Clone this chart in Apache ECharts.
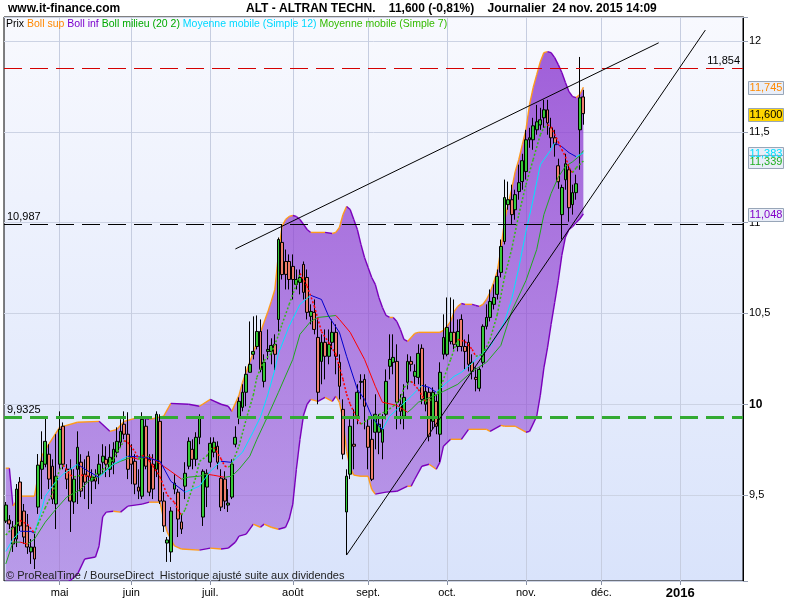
<!DOCTYPE html>
<html><head><meta charset="utf-8">
<script src="https://cdn.jsdelivr.net/npm/echarts@6.0.0/dist/echarts.min.js"></script>
<style>html,body{margin:0;padding:0;background:#fff}#c{width:800px;height:600px}</style>
</head><body><div id="c"></div>
<script>
// ---------- axis / calendar ----------
const START_DATE = [2015, 3, 10];          // 10 avr. 2015 (first candle)
const N_CATEGORIES = 206;                   // trading days shown on the axis
const HOLIDAYS = ['2015-05-01', '2015-12-25', '2016-01-01'];
const MONTHS_FR = ['janv.','févr.','mars','avr.','mai','juin','juil.','août','sept.','oct.','nov.','déc.'];
const Y_TICKS_BOLD = [10];

const categories = [];
{
  const d = new Date(Date.UTC(START_DATE[0], START_DATE[1], START_DATE[2]));
  while (categories.length < N_CATEGORIES) {
    const wd = d.getUTCDay(), s = d.toISOString().slice(0, 10);
    if (wd !== 0 && wd !== 6 && HOLIDAYS.indexOf(s) < 0) categories.push(s);
    d.setUTCDate(d.getUTCDate() + 1);
  }
}
const monthStart = categories.map((c, i) => i > 0 && c.slice(5, 7) !== categories[i - 1].slice(5, 7));

// ---------- prices (OHLC) ----------
const open = [
9.357,9.363,9.324,9.258,9.572,9.412,9.330,9.187,9.214,9.434,
9.642,9.670,9.725,9.659,9.451,9.670,9.879,9.642,9.642,9.462,
9.642,9.681,9.615,9.714,9.577,9.599,9.615,9.681,9.697,9.642,
9.681,9.736,9.791,9.890,9.835,9.708,9.686,9.544,9.494,9.879,
9.697,9.670,9.642,9.906,9.467,9.236,9.187,9.533,9.516,9.352,
9.549,9.659,9.752,9.697,9.818,9.379,9.544,9.681,9.736,9.769,
9.593,9.588,9.445,9.489,9.780,9.928,9.983,10.066,10.176,10.275,
10.318,10.401,10.126,10.291,10.291,10.330,10.467,10.891,10.786,10.786,
10.759,10.660,10.671,10.770,10.698,10.484,10.506,10.368,10.236,10.341,
10.264,10.341,10.396,10.231,9.972,9.407,9.615,9.780,9.934,10.121,
10.137,9.879,9.807,9.846,9.846,9.791,9.945,10.209,10.231,10.236,
10.000,9.934,10.121,10.236,10.154,10.148,10.308,10.000,10.066,9.906,
10.016,9.835,10.275,10.275,10.346,10.396,10.318,10.467,10.318,10.341,
10.231,10.148,10.088,10.231,10.429,10.478,10.550,10.605,10.726,10.896,
11.099,11.126,11.071,11.171,11.226,11.281,11.456,11.456,11.511,11.538,
11.577,11.621,11.522,11.467,11.313,11.044,11.236,11.291,11.099,11.165,
11.511,11.692];
const close = [
9.445,9.341,9.231,9.533,9.330,9.269,9.214,9.214,9.148,9.665,
9.686,9.796,9.588,9.478,9.604,9.862,9.670,9.588,9.467,9.588,
9.763,9.522,9.571,9.604,9.599,9.577,9.670,9.714,9.670,9.708,
9.752,9.796,9.851,9.835,9.642,9.670,9.560,9.522,9.917,9.659,
9.516,9.533,9.945,9.467,9.330,9.253,9.412,9.566,9.368,9.313,
9.620,9.796,9.697,9.818,9.928,9.631,9.620,9.785,9.791,9.681,
9.434,9.467,9.456,9.670,9.818,10.016,10.066,10.165,10.220,10.291,
10.401,10.192,10.231,10.302,10.324,10.275,10.907,10.714,10.715,10.687,
10.687,10.687,10.698,10.616,10.506,10.511,10.412,10.066,10.341,10.264,
10.330,10.396,10.264,10.099,9.725,9.604,9.879,9.769,10.066,10.126,
9.989,9.763,9.587,9.945,9.890,9.862,10.126,10.247,10.258,10.011,
9.961,10.038,10.236,10.220,10.181,10.280,10.027,10.071,9.824,10.066,
9.879,10.176,10.368,10.423,10.396,10.330,10.401,10.318,10.291,10.220,
10.181,10.137,10.192,10.429,10.478,10.566,10.588,10.704,10.869,11.138,
11.126,11.044,11.154,11.220,11.341,11.456,11.467,11.533,11.555,11.566,
11.621,11.549,11.467,11.429,11.225,11.193,11.324,11.082,11.165,11.214,
11.687,11.600];
const low = [
9.346,9.313,9.187,9.214,9.302,9.231,9.176,9.121,9.093,9.396,
9.478,9.653,9.533,9.451,9.313,9.642,9.642,9.533,9.297,9.396,
9.451,9.489,9.478,9.423,9.451,9.533,9.560,9.615,9.599,9.599,
9.615,9.708,9.763,9.807,9.588,9.560,9.505,9.478,9.478,9.642,
9.494,9.478,9.599,9.451,9.297,9.132,9.132,9.505,9.269,9.286,
9.478,9.642,9.642,9.659,9.780,9.330,9.434,9.653,9.708,9.642,
9.412,9.423,9.407,9.478,9.763,9.890,9.961,9.989,10.176,10.247,
10.302,10.176,10.093,10.247,10.220,10.187,10.401,10.687,10.632,10.632,
10.577,10.632,10.605,10.577,10.467,10.440,10.385,10.000,10.110,10.137,
10.220,10.302,10.165,10.027,9.697,9.170,9.588,9.642,9.890,10.027,
9.862,9.642,9.577,9.752,9.725,9.697,9.917,10.137,10.165,9.862,
9.890,9.862,10.082,10.181,10.110,10.110,10.000,9.961,9.796,9.862,
9.835,9.681,10.247,10.264,10.330,10.302,10.291,10.291,10.192,10.181,
10.137,10.071,10.071,10.203,10.412,10.456,10.522,10.577,10.698,10.880,
11.071,10.990,11.016,11.126,11.181,11.237,11.412,11.401,11.484,11.511,
11.522,11.484,11.412,11.363,11.186,10.907,11.181,11.005,11.044,11.126,
11.291,11.539];
const high = [
9.462,9.390,9.357,9.561,9.599,9.451,9.396,9.258,9.286,9.726,
9.851,9.928,9.780,9.697,9.835,9.961,9.900,9.670,9.697,9.642,
9.851,9.725,9.697,9.741,9.642,9.642,9.725,9.780,9.769,9.780,
9.791,9.873,9.917,9.961,9.956,9.780,9.725,9.642,9.956,9.917,
9.725,9.725,9.961,9.945,9.516,9.269,9.434,9.615,9.533,9.396,
9.681,9.818,9.807,9.846,9.945,9.642,9.642,9.818,9.818,9.796,
9.642,9.631,9.533,9.697,9.879,10.038,10.110,10.209,10.456,10.484,
10.489,10.467,10.275,10.412,10.363,10.385,10.918,10.990,10.852,10.825,
10.825,10.742,10.742,10.786,10.742,10.550,10.577,10.467,10.385,10.412,
10.412,10.467,10.440,10.275,10.027,9.642,9.917,9.972,10.110,10.165,
10.165,9.917,9.917,10.055,9.945,9.945,10.192,10.385,10.385,10.330,
10.055,10.110,10.275,10.264,10.220,10.330,10.330,10.110,10.093,10.093,
10.055,10.231,10.495,10.588,10.588,10.577,10.467,10.495,10.357,10.385,
10.275,10.203,10.203,10.440,10.550,10.632,10.660,10.742,10.907,11.237,
11.226,11.209,11.181,11.319,11.379,11.511,11.522,11.577,11.648,11.632,
11.676,11.676,11.577,11.511,11.352,11.209,11.379,11.319,11.209,11.264,
11.912,11.731];

// ---------- indicators, [candle index, value] ----------
const bollSup = [[0,9.648],[1,9.648],[2,9.44],[4,9.494],[8,9.494],[10,9.714],[12,9.78],[15,9.873],[20,9.901],[26,9.906],[29,9.851],[31,9.862],[33,9.906],[37,9.928],[40,9.917],[44,9.934],[46,10.005],[51,10.0],[54,9.989],[57,10.027],[60,10.0],[62,9.989],[63,9.961],[65,10.049],[66,10.121],[69,10.286],[71,10.396],[73,10.506],[74,10.566],[75,10.632],[76,10.825],[77,10.979],[78,11.017],[79,11.034],[80,11.039],[81,11.034],[82,11.017],[83,10.99],[84,10.962],[85,10.946],[89,10.946],[91,10.94],[92,10.946],[93,10.973],[94,11.045],[95,11.089],[96,11.072],[97,11.017],[98,10.962],[99,10.88],[100,10.808],[101,10.753],[102,10.698],[103,10.66],[104,10.588],[105,10.533],[106,10.489],[107,10.478],[108,10.478],[109,10.456],[110,10.412],[111,10.357],[112,10.346],[113,10.368],[114,10.39],[115,10.396],[121,10.396],[122,10.407],[123,10.429],[124,10.456],[125,10.511],[126,10.539],[127,10.555],[128,10.55],[130,10.55],[131,10.544],[132,10.539],[133,10.55],[134,10.577],[135,10.616],[136,10.671],[137,10.731],[138,10.852],[139,11.006],[140,11.1],[141,11.182],[142,11.281],[143,11.347],[144,11.43],[145,11.512],[146,11.65],[147,11.743],[148,11.815],[149,11.886],[150,11.936],[151,11.941],[152,11.936],[153,11.908],[154,11.87],[155,11.826],[156,11.771],[157,11.721],[158,11.694],[159,11.688],[160,11.705],[161,11.745]];
const bollInf = [[0,8.6],[8,9.0],[14,8.98],[18,9.03],[20,9.065],[22,9.148],[25,9.159],[26,9.22],[27,9.38],[28,9.406],[30,9.411],[32,9.406],[34,9.439],[38,9.45],[40,9.461],[43,9.461],[44,9.368],[45,9.296],[47,9.22],[49,9.203],[54,9.197],[57,9.208],[60,9.203],[62,9.208],[64,9.241],[65,9.274],[67,9.285],[69,9.34],[71,9.323],[72,9.34],[74,9.323],[76,9.312],[78,9.323],[79,9.368],[80,9.45],[81,9.642],[82,9.807],[83,9.94],[84,10.0],[85,10.027],[87,10.016],[89,10.038],[91,10.016],[92,10.044],[93,10.01],[94,9.917],[95,9.74],[96,9.65],[97,9.61],[99,9.604],[101,9.604],[102,9.532],[103,9.505],[106,9.516],[109,9.521],[112,9.549],[113,9.549],[114,9.587],[116,9.659],[118,9.67],[120,9.642],[121,9.68],[122,9.769],[124,9.807],[127,9.807],[129,9.862],[134,9.862],[135,9.851],[138,9.884],[139,9.879],[142,9.879],[145,9.846],[146,9.851],[148,9.934],[149,10.05],[150,10.2],[151,10.31],[152,10.44],[153,10.56],[154,10.68],[155,10.82],[156,10.92],[157,10.962],[158,10.979],[159,11.0],[160,11.02],[161,11.048]];
const bollMid = [[0,9.121],[2,9.241],[4,9.241],[6,9.23],[8,9.258],[11,9.351],[14,9.423],[17,9.489],[21,9.533],[23,9.576],[26,9.604],[29,9.659],[32,9.686],[35,9.708],[37,9.697],[40,9.714],[42,9.686],[46,9.631],[49,9.588],[51,9.599],[54,9.604],[56,9.615],[58,9.609],[61,9.598],[63,9.604],[65,9.642],[68,9.714],[70,9.807],[73,9.934],[76,10.066],[80,10.247],[82,10.385],[85,10.456],[87,10.478],[90,10.484],[92,10.489],[93,10.467],[96,10.396],[100,10.247],[103,10.099],[105,10.011],[109,9.994],[112,9.956],[113,9.972],[115,10.011],[117,10.027],[119,10.044],[122,10.071],[126,10.11],[130,10.181],[134,10.231],[138,10.324],[141,10.511],[145,10.681],[148,10.852],[150,11.044],[152,11.16],[154,11.25],[156,11.31],[158,11.335],[160,11.368],[161,11.396]];
const ma12 = [[0,9.19],[2,9.257],[4,9.301],[7,9.30],[8,9.29],[10,9.42],[11,9.494],[14,9.576],[16,9.615],[20,9.67],[23,9.631],[26,9.598],[30,9.67],[34,9.714],[39,9.708],[43,9.686],[46,9.576],[50,9.516],[54,9.549],[57,9.631],[60,9.686],[63,9.68],[66,9.736],[69,9.85],[71,9.93],[73,10.05],[75,10.19],[76,10.28],[79,10.43],[82,10.55],[85,10.6],[88,10.577],[90,10.484],[93,10.396],[95,10.264],[98,10.082],[100,10.027],[102,9.934],[104,9.879],[105,9.862],[107,9.934],[110,9.989],[113,10.044],[116,10.104],[118,10.093],[120,10.066],[123,10.121],[125,10.154],[127,10.176],[129,10.209],[132,10.264],[135,10.319],[139,10.451],[141,10.577],[143,10.75],[145,10.951],[147,11.126],[149,11.319],[150,11.347],[152,11.402],[153,11.44],[155,11.418],[157,11.385],[159,11.363],[160,11.374],[161,11.383]];
const ma7 = [[0,9.28],[4,9.36],[6,9.34],[8,9.29],[9,9.34],[11,9.43],[13,9.51],[15,9.64],[16,9.665],[18,9.61],[19,9.60],[21,9.61],[24,9.60],[27,9.64],[30,9.70],[33,9.80],[34,9.79],[36,9.74],[37,9.70],[38,9.72],[40,9.69],[41,9.66],[43,9.60],[45,9.50],[47,9.46],[48,9.42],[49,9.39],[50,9.42],[51,9.48],[53,9.60],[54,9.686],[56,9.714],[57,9.752],[58,9.763],[60,9.70],[61,9.66],[62,9.653],[63,9.67],[65,9.769],[67,9.917],[69,10.05],[70,10.15],[72,10.24],[74,10.28],[76,10.38],[77,10.44],[79,10.55],[81,10.66],[82,10.72],[84,10.65],[86,10.54],[88,10.40],[90,10.34],[92,10.275],[94,10.137],[95,10.055],[96,10.0],[98,9.917],[99,9.89],[101,9.917],[103,9.934],[106,9.961],[108,9.989],[110,10.027],[111,10.093],[113,10.126],[115,10.082],[117,10.016],[119,10.027],[121,10.082],[123,10.192],[124,10.247],[126,10.357],[128,10.346],[130,10.302],[131,10.264],[133,10.275],[135,10.357],[137,10.494],[139,10.698],[141,10.852],[143,11.044],[145,11.209],[147,11.347],[149,11.484],[150,11.522],[151,11.539],[152,11.528],[154,11.445],[155,11.402],[156,11.363],[157,11.302],[158,11.275],[159,11.302],[161,11.339]];

// horizontal levels and drawn trend lines (data coordinates)
const levels = [
  {value: 11.854, label: '11,854', color: '#d40000', width: 1, pos: 'insideEndTop'},
  {value: 10.987, label: '10,987', color: '#000000', width: 1, pos: 'insideStartTop'},
  {value: 9.9325, label: '9,9325', color: '#33aa33', width: 3, pos: 'insideStartTop'}
];
const trendLines = [
  [[64, 10.855], [182, 11.99]],
  [[95, 9.17], [195, 12.06]]
];

// ---------- chart ----------
const FONT_R = "'Liberation Sans',Arial,sans-serif";
const ORANGE = '#ff9a1a', PURPLE = '#7a00bb';

const chart = echarts.init(document.getElementById('c'), null, {renderer: 'canvas', width: 800, height: 600});
const candleData = open.map((o, i) => [o, close[i], low[i], high[i]]);

const bandFill = new echarts.graphic.LinearGradient(0, 17, 0, 583, [
  {offset: 0, color: 'rgba(138,56,208,0.82)'},
  {offset: 1, color: 'rgba(138,56,208,0.42)'}
], true);

function renderBand(params, api) {
  const cs = params.coordSys;
  const up = bollSup.map(p => api.coord(p));
  const lo = bollInf.map(p => api.coord(p));
  const children = [{type: 'polygon', shape: {points: up.concat(lo.slice().reverse())}, style: {fill: bandFill}}];
  for (let k = 1; k < up.length; k++) {
    const rising = bollSup[k][1] >= bollSup[k - 1][1];
    children.push({type: 'line', shape: {x1: up[k-1][0], y1: up[k-1][1], x2: up[k][0], y2: up[k][1]},
      style: {stroke: rising ? ORANGE : PURPLE, lineWidth: 1.4}});
  }
  for (let k = 1; k < lo.length; k++) {
    const falling = bollInf[k][1] <= bollInf[k - 1][1];
    children.push({type: 'line', shape: {x1: lo[k-1][0], y1: lo[k-1][1], x2: lo[k][0], y2: lo[k][1]},
      style: {stroke: falling ? ORANGE : PURPLE, lineWidth: 1.4}});
  }
  return {type: 'group', children: children,
    clipPath: {type: 'rect', shape: {x: cs.x, y: cs.y, width: cs.width, height: cs.height}}};
}

function segSeries(name, pts, upColor, downColor, width, dash, z) {
  const segs = pts.slice(1).map((p, k) => [pts[k][0], pts[k][1], p[0], p[1]]);
  return {
    type: 'custom', name: name, data: segs, encode: {x: [0, 2], y: [1, 3]}, z: z, silent: true, clip: true,
    renderItem: function (params, api) {
      const s = segs[params.dataIndex];
      const a = api.coord([s[0], s[1]]), b = api.coord([s[2], s[3]]);
      return {type: 'line', shape: {x1: a[0], y1: a[1], x2: b[0], y2: b[1]},
        style: {stroke: s[3] >= s[1] ? upColor : downColor, lineWidth: width, lineDash: dash}};
    }
  };
}

const markData = levels.map(l => ({
  yAxis: l.value,
  lineStyle: {color: l.color, width: l.width, type: [18, 8]},
  label: {show: true, position: l.pos, formatter: l.label, color: '#000', fontSize: 11, fontFamily: FONT_R, distance: [3, 2]}
})).concat(trendLines.map(t => [
  {coord: t[0], lineStyle: {color: '#000', width: 1, type: 'solid'}, label: {show: false}},
  {coord: t[1]}
]));

chart.setOption({
  animation: false,
  textStyle: {fontFamily: FONT_R},
  grid: {left: 4, right: 57, top: 17, bottom: 17, show: true, borderColor: '#000', borderWidth: 1,
    backgroundColor: new echarts.graphic.LinearGradient(0, 0, 0, 1, [
      {offset: 0, color: '#f8f9fe'}, {offset: 1, color: '#d9e3fb'}])},
  xAxis: {
    type: 'category', data: categories, boundaryGap: true,
    axisLine: {show: false},
    axisTick: {show: true, interval: i => monthStart[i], alignWithLabel: true, length: 4, lineStyle: {color: '#8a92a6'}},
    axisLabel: {interval: i => monthStart[i], margin: 6, color: '#000', fontSize: 11, fontFamily: FONT_R,
      formatter: v => { const m = +v.slice(5, 7); return m === 1 ? '{b|' + v.slice(0, 4) + '}' : MONTHS_FR[m - 1]; },
      rich: {b: {fontWeight: 'bold', fontSize: 13, fontFamily: FONT_R, color: '#000'}}},
    splitLine: {show: true, interval: i => monthStart[i], alignWithLabel: true, lineStyle: {color: '#c6cde0', width: 1}}
  },
  yAxis: {
    type: 'value', position: 'right', min: 9.027, max: 12.132, splitNumber: 6,
    axisLine: {show: true, lineStyle: {color: '#000', width: 1}},
    axisTick: {show: true, length: 5, lineStyle: {color: '#9aa3b5'}},
    axisLabel: {margin: 6, color: '#000', fontSize: 11, fontFamily: FONT_R,
      formatter: v => {
        if (Math.abs(v * 2 - Math.round(v * 2)) > 1e-6) return '';
        const s = String(Math.round(v * 2) / 2).replace('.', ',');
        return Y_TICKS_BOLD.indexOf(v) >= 0 ? '{b|' + s + '}' : s;
      },
      rich: {b: {fontWeight: 'bold', fontSize: 12, color: '#000'}}},
    splitLine: {show: true, lineStyle: {color: '#ccd3e4', width: 1}}
  },
  series: [
    {type: 'custom', name: 'Boll', data: [[0, bollSup[0][1]]], encode: {x: 0, y: 1}, renderItem: renderBand, z: 1, silent: true},
    {type: 'candlestick', name: 'Prix', data: candleData, barWidth: 3.3, z: 3,
      itemStyle: {color: '#36c936', color0: '#ef7e6c', borderColor: '#000', borderColor0: '#000', borderWidth: 1},
      markLine: {symbol: ['none', 'none'], silent: true, animation: false, data: markData}},
    segSeries('Boll milieu', bollMid, '#1fa81f', '#ff0000', 1, null, 4),
    segSeries('MM12', ma12, '#00e5ff', '#0000cc', 1, null, 4),
    segSeries('MM7', ma7, '#33bb11', '#ff0000', 1.5, [2, 2], 4)
  ]
});

// ---------- texts and value boxes ----------
const graphics = [];
function txt(x, y, text, fill, font, align, rich) {
  graphics.push({type: 'text', z: 100, style: {x: x, y: y, text: text, fill: fill, font: font, align: align || 'left', verticalAlign: 'middle', rich: rich}});
}
txt(8, 9, 'www.it-finance.com', '#000', 'bold 12px ' + FONT_R);
txt(246, 9, 'ALT - ALTRAN TECHN.    11,600 (-0,81%)    Journalier  24 nov. 2015 14:09', '#000', 'bold 12px ' + FONT_R);
const legendItems = [
  ['Prix', '#000000'], ['Boll sup', '#ff8800'], ['Boll inf', '#7a00cc'],
  ['Boll milieu (20 2)', '#00aa00'], ['Moyenne mobile (Simple 12)', '#00d8ff'], ['Moyenne mobile (Simple 7)', '#33bb00']
];
const legendRich = {};
legendItems.forEach((l, k) => { legendRich['l' + k] = {fill: l[1], color: l[1], font: '10.5px ' + FONT_R, fontSize: 10.5}; });
txt(6, 24, legendItems.map((l, k) => '{l' + k + '|' + l[0] + '}').join(' '), '#000', '10.5px ' + FONT_R, 'left', legendRich);
txt(6, 576, '© ProRealTime / BourseDirect  Historique ajusté suite aux dividendes', '#222', '11px ' + FONT_R);

const fmt = v => v.toFixed(3).replace('.', ',');
const boxes = [
  {v: bollSup[bollSup.length - 1][1], color: '#ff8a00', bg: '#e9eef8'},
  {v: close[close.length - 1], color: '#000', bg: '#ffd500'},
  {v: ma12[ma12.length - 1][1], color: '#00e0ff', bg: '#e9eef8'},
  {v: ma7[ma7.length - 1][1], color: '#22b022', bg: '#e9eef8'},
  {v: bollInf[bollInf.length - 1][1], color: '#8000c8', bg: '#e9eef8'}
];
boxes.forEach(b => {
  const py = Math.round(chart.convertToPixel({yAxisIndex: 0}, b.v)) + 1;
  graphics.push({type: 'rect', z: 100, shape: {x: 748.5, y: py - 6.5, width: 35, height: 13},
    style: {fill: b.bg, stroke: '#98a6b8', lineWidth: 1}});
  graphics.push({type: 'text', z: 101, style: {x: 766, y: py, text: fmt(b.v), fill: b.color,
    font: '11px ' + FONT_R, align: 'center', verticalAlign: 'middle'}});
});
chart.setOption({graphic: graphics});
</script>
</body></html>
